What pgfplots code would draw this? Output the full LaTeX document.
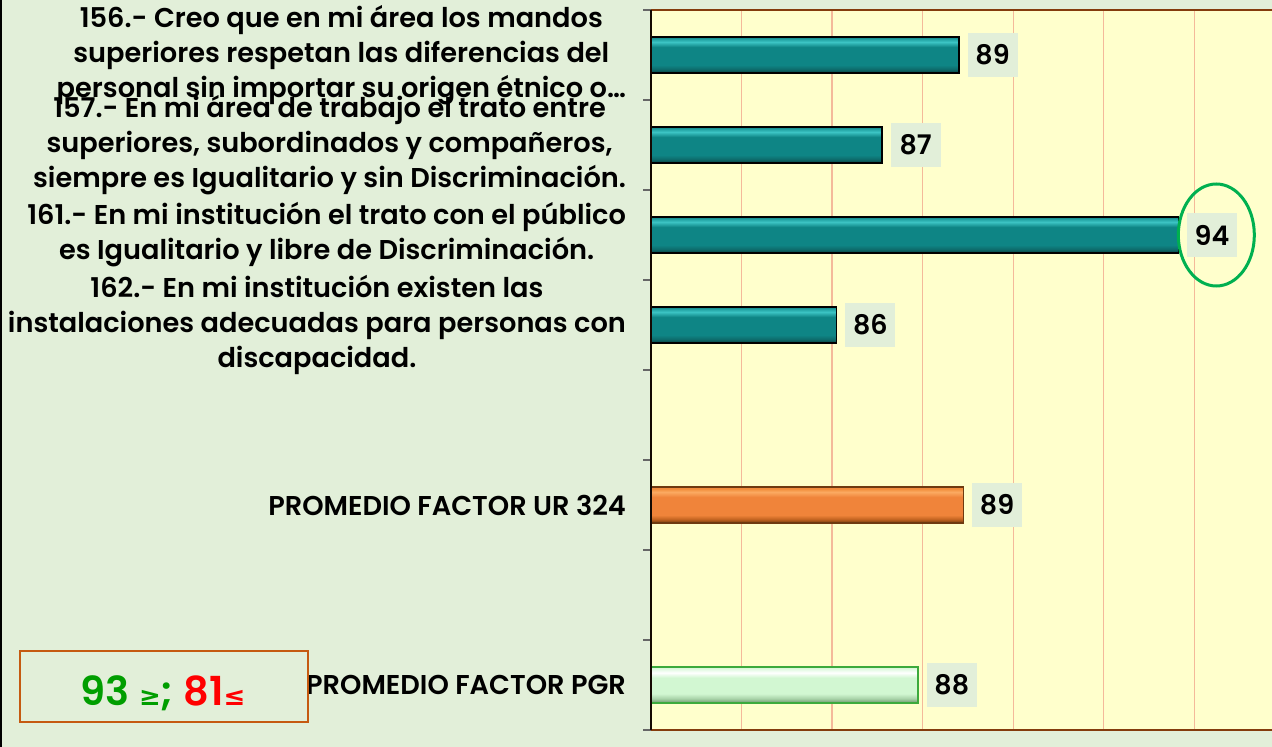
\documentclass[border=0pt]{standalone}
\usepackage{pgfplots}
\pgfplotsset{compat=1.18}
\usepackage{fontspec}
\setmainfont{Poppins}[BoldFont={Poppins SemiBold}]
\newfontfamily\symfont{DejaVu Sans}
\definecolor{bgc}{HTML}{E2EFD9}
\definecolor{plotc}{HTML}{FFFFCC}
\definecolor{gridc}{HTML}{F4B99A}
\definecolor{brownline}{HTML}{843C0C}
\definecolor{tealL}{HTML}{3CC4C4}
\definecolor{tealH}{HTML}{22A3A3}
\definecolor{tealM}{HTML}{0E8585}
\definecolor{tealS}{HTML}{0D6A6A}
\definecolor{tealD}{HTML}{0B3F3F}
\definecolor{orL}{HTML}{FBAA62}
\definecolor{orH}{HTML}{F2903E}
\definecolor{orM}{HTML}{F0843A}
\definecolor{orS}{HTML}{C0621F}
\definecolor{orD}{HTML}{6E3A10}
\definecolor{grM}{HTML}{D2F7D2}
\definecolor{grS}{HTML}{A8D2A8}
\definecolor{grD}{HTML}{6A946A}
\definecolor{grB}{HTML}{3CAA3C}
\definecolor{ellc}{HTML}{00B050}
\definecolor{boxc}{HTML}{C55A11}
\definecolor{okc}{HTML}{009E00}
\pgfdeclareverticalshading{tealsh}{100bp}{color(0bp)=(tealD); color(25bp)=(tealD);
  color(30bp)=(tealS); color(36bp)=(tealM); color(61bp)=(tealM); color(68bp)=(tealL);
  color(72bp)=(tealH); color(75bp)=(tealM); color(100bp)=(tealM)}
\pgfdeclareverticalshading{orsh}{100bp}{color(0bp)=(orD); color(25bp)=(orD);
  color(30bp)=(orS); color(36bp)=(orM); color(61bp)=(orM); color(68bp)=(orL);
  color(72bp)=(orH); color(75bp)=(orM); color(100bp)=(orM)}
\pgfdeclareverticalshading{grsh}{100bp}{color(0bp)=(grD); color(25bp)=(grD);
  color(31bp)=(grS); color(38bp)=(grM); color(60bp)=(grM); color(67bp)=(white);
  color(75bp)=(grM); color(100bp)=(grM)}
\begin{document}
\begin{tikzpicture}
\fill[bgc] (0,0) rectangle (636pt,373.5pt);
\clip (0,0) rectangle (636pt,373.5pt);
\draw[black, line width=0.8pt] (0.4pt,0) -- (0.4pt,373.5pt);
\begin{axis}[
  name=ax,
  at={(325.5pt,8.5pt)}, anchor=south west,
  scale only axis, width=310.5pt, height=360pt,
  xbar, bar width=18pt, bar shift=0pt,
  xmin=82, xmax=95.72, ymin=0.5, ymax=8.5, y dir=reverse,
  axis background/.style={fill=plotc},
  axis line style={draw=none},
  xtick={84,86,...,94}, xticklabels={},
  xmajorgrids, major x grid style={gridc, line width=0.6pt},
  major tick length=0pt,
  ytick={1,...,8},
  minor ytick={0.5,1.5,...,8.5},
  minor tick length=4pt, tick align=outside, ytick pos=left,
  minor y tick style={black!60, line width=0.6pt},
  yticklabel style={align=center, font=\fontsize{13.6}{17.5}\selectfont\bfseries, xshift=-9pt},
  yticklabels={
    {156.- Creo que en mi área los mandos\\superiores respetan las diferencias del\\personal sin importar su origen étnico o…},
    {157.- En mi área de trabajo el trato entre\\superiores, subordinados y compañeros,\\siempre es Igualitario y sin Discriminación.},
    {161.- En mi institución el trato con el público\\es Igualitario y libre de Discriminación.},
    {162.- En mi institución existen las\\instalaciones adecuadas para personas con\\discapacidad.},
    {},
    {PROMEDIO FACTOR UR 324},
    {},
    {PROMEDIO FACTOR PGR}},
  point meta=x,
  nodes near coords={\pgfmathprintnumber[fixed,precision=0,assume math mode=true]{\pgfplotspointmeta}},
  nodes near coords style={anchor=west, xshift=4pt, fill=bgc, minimum width=25pt,
    minimum height=22pt, inner sep=0pt, text=black,
    font=\fontsize{13.5}{13.5}\selectfont\bfseries},
]
\addplot[draw=black, line width=0.8pt, shading=tealsh] coordinates {(88.8,1)};
\addplot[draw=black, line width=0.8pt, shading=tealsh] coordinates {(87.1,2)};
\addplot[draw=black, line width=0.8pt, shading=tealsh] coordinates {(93.65,3)};
\addplot[draw=black, line width=0.8pt, shading=tealsh] coordinates {(86.1,4)};
\addplot[draw=orD, line width=0.8pt, shading=orsh] coordinates {(88.9,6)};
\addplot[draw=grB, line width=0.8pt, shading=grsh] coordinates {(87.9,8)};
\draw[ellc, line width=1.5pt] (axis cs:94.49,3) ellipse [x radius=19pt, y radius=25.5pt];
\end{axis}
\draw[brownline, line width=1pt] (ax.north west) -- (ax.north east);
\draw[brownline, line width=1pt] (ax.south west) -- (ax.south east);
\draw[black!85!brownline, line width=0.8pt] (ax.south west) -- (ax.north west);
\draw[boxc, line width=1pt] (10pt,12.5pt) rectangle (154pt,48pt);
\node at (81.5pt,27pt) {\fontsize{20}{20}\selectfont\bfseries\color{okc}93 {\symfont\fontsize{13}{13}\selectfont ≥};\ \color{red}81{\symfont\fontsize{13}{13}\selectfont ≤}};
\end{tikzpicture}
\end{document}
